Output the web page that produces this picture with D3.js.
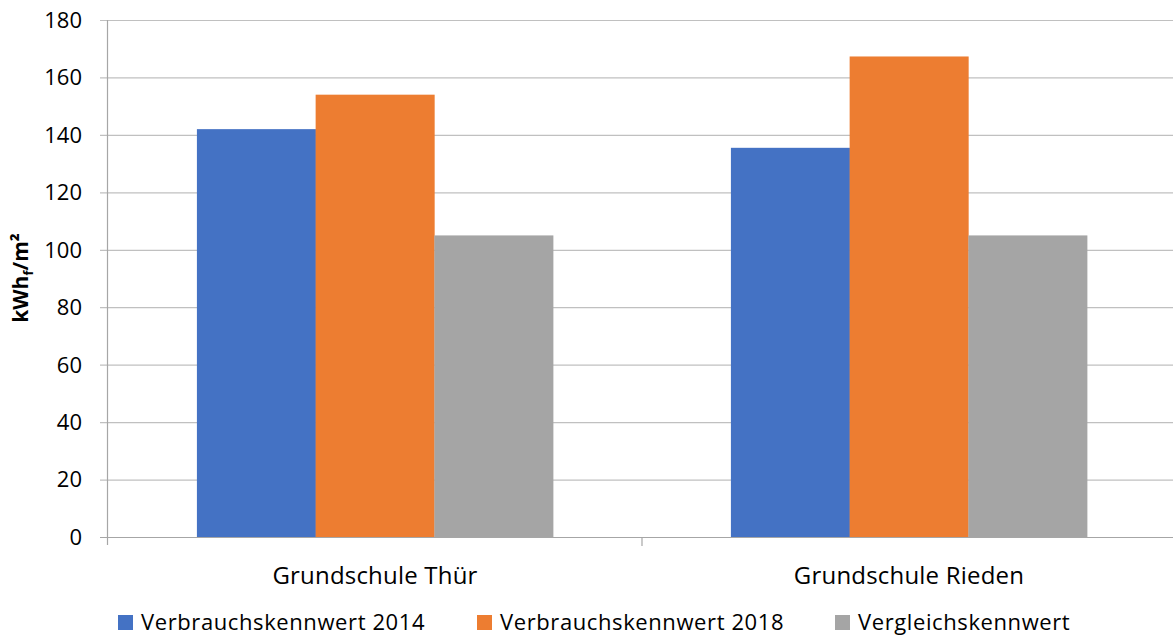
<!DOCTYPE html>
<html>
<head>
<meta charset="utf-8">
<script src="https://cdn.jsdelivr.net/npm/d3@7"></script>
<style>
  body { margin: 0; background: #fff; overflow: hidden; }
  svg text { font-family: "Open Sans", "Noto Sans", sans-serif; fill: #000; }
</style>
</head>
<body>
<div id="chart"></div>
<script>
// data
var categories = ["Grundschule Thür", "Grundschule Rieden"];
var seriesNames = ["Verbrauchskennwert 2014", "Verbrauchskennwert 2018", "Vergleichskennwert"];
var values2014 = [142, 135.5];
var values2018 = [154, 167.3];
var valuesRef = [105, 105];
var yTicks = [0, 20, 40, 60, 80, 100, 120, 140, 160, 180];
var colors = ["#4472c4", "#ed7d31", "#a5a5a5"];

var W = 1173, H = 639;
var margin = {top: 20, right: -3, bottom: 102, left: 108};
var width = W - margin.left - margin.right;
var height = H - margin.top - margin.bottom;

var svg = d3.select("#chart").append("svg")
    .attr("width", W)
    .attr("height", H);

var g = svg.append("g")
    .attr("transform", "translate(" + margin.left + "," + margin.top + ")");

var x0 = d3.scaleBand()
    .domain(categories)
    .range([0, width]);

// inner bars take the middle two thirds of each category
var x1 = d3.scaleBand()
    .domain(seriesNames)
    .range([x0.bandwidth() * 0.1665, x0.bandwidth() * 0.8335]);

var y = d3.scaleLinear()
    .domain([0, 180])
    .range([height, 0]);

// gridlines
g.append("g")
    .selectAll("line")
    .data(yTicks)
    .enter()
    .append("line")
    .attr("x1", -8)
    .attr("x2", width)
    .attr("y1", function(d) { return y(d) + 0.5; })
    .attr("y2", function(d) { return y(d) + 0.5; })
    .attr("stroke", function(d) { return d == 0 ? "#a6a6a6" : "#c0c0c0"; })
    .attr("stroke-width", 1.2);

// y tick labels
g.append("g")
    .selectAll("text")
    .data(yTicks)
    .enter()
    .append("text")
    .attr("x", -26)
    .attr("y", function(d) { return y(d); })
    .attr("dy", "0.36em")
    .attr("text-anchor", "end")
    .style("font-size", "22px")
    .text(function(d) { return d; });

// y axis line
g.append("line")
    .attr("x1", -0.5).attr("x2", -0.5)
    .attr("y1", 0).attr("y2", height + 8)
    .attr("stroke", "#a6a6a6")
    .attr("stroke-width", 1.2);

// category tick between groups
g.append("line")
    .attr("x1", x0.bandwidth()).attr("x2", x0.bandwidth())
    .attr("y1", height).attr("y2", height + 9)
    .attr("stroke", "#a6a6a6")
    .attr("stroke-width", 1.2);

var series = [values2014, values2018, valuesRef];
var bars = [];
categories.forEach(function(c, i) {
    seriesNames.forEach(function(s, j) {
        bars.push({cat: c, name: s, value: series[j][i], color: colors[j]});
    });
});

g.selectAll("rect.bar")
    .data(bars)
    .enter()
    .append("rect")
    .attr("class", "bar")
    .attr("x", function(d) { return x0(d.cat) + x1(d.name); })
    .attr("y", function(d) { return y(d.value); })
    .attr("width", x1.bandwidth() + 0.3)
    .attr("height", function(d) { return height - y(d.value); })
    .attr("fill", function(d) { return d.color; });

// category labels
g.append("g")
    .selectAll("text")
    .data(categories)
    .enter()
    .append("text")
    .attr("x", function(d) { return x0(d) + x0.bandwidth() / 2; })
    .attr("y", height + 47)
    .attr("text-anchor", "middle")
    .style("font-size", "24px")
    .style("letter-spacing", "0.2px")
    .text(function(d) { return d; });

// y axis title
var title = svg.append("text")
    .attr("transform", "translate(28," + 278 + ") rotate(-90)")
    .attr("text-anchor", "middle")
    .style("font-size", "21px")
    .style("font-weight", "bold");
title.append("tspan").text("kWh");
title.append("tspan").attr("dy", 5).style("font-size", "13px").text("f");
title.append("tspan").attr("dy", -5).text("/m²");

// legend
var legendX = [118, 477, 835];
var legend = svg.append("g")
    .selectAll("g")
    .data(seriesNames)
    .enter()
    .append("g")
    .attr("transform", function(d, i) { return "translate(" + legendX[i] + ",615)"; });

legend.append("rect")
    .attr("width", 15)
    .attr("height", 15)
    .attr("fill", function(d, i) { return colors[i]; });

legend.append("text")
    .attr("x", 23)
    .attr("y", 7.5)
    .attr("dy", "0.36em")
    .style("font-size", "22px")
    .style("letter-spacing", "0.6px")
    .text(function(d) { return d; });
</script>
</body>
</html>
